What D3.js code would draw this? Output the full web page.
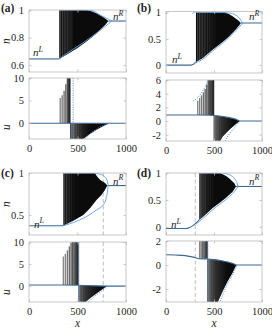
<!DOCTYPE html>
<html>
<head>
<meta charset="utf-8">
<script src="https://cdn.jsdelivr.net/npm/d3@7/dist/d3.min.js"></script>
<style>
  body { margin: 0; background: #fff; }
</style>
</head>
<body>
<svg id="chart" width="272" height="330"></svg>
<script>
// shared x axis
var xDomain = [0, 1000];
var xTicks = [0, 500, 1000];

// ---- (a) ----
var aNLim = [0.55, 1], aNTicks = [0.6, 0.8, 1];
var aULim = [-3.5, 10], aUTicks = [0, 5, 10];
var aNSolLeft = [[0, 0.645], [312, 0.645]];
var aNSolRight = [[818, 0.92], [1000, 0.92]];
var aNTop = [[312, 1], [600, 1], [650, 0.99], [700, 0.975], [750, 0.955], [790, 0.937], [818, 0.92]];
var aNBot = [[312, 0.645], [400, 0.68], [500, 0.725], [600, 0.775], [680, 0.82], [740, 0.86], [790, 0.895], [818, 0.92]];
var aNGaps = [326, 345, 363, 380, 396, 411, 425, 438, 450];
var aEnvUp = [[312, 1], [557, 1], [650, 0.995], [732, 0.964], [800, 0.94], [835, 0.927], [852, 0.92]];
var aEnvLo = [[312, 0.645], [400, 0.69], [495, 0.733], [646, 0.806], [765, 0.87], [820, 0.9], [852, 0.92]];
var aUSol = [[0, 0], [1000, 0]];
var aUBase = 0;
var aStripX = [322, 342, 362, 380, 396, 404, 410, 416, 421];
var aStripTop = [5.6, 6.2, 7.2, 8.6, 10.5, 12, 12, 12, 12];
var aNegTop = [[423, 0], [830, 0]];
var aNegBot = [[423, -6], [545, -6], [560, -3.5], [620, -2.5], [680, -1.7], [740, -0.95], [790, -0.4], [830, 0]];
var aUGaps = [440, 456, 472, 490, 510, 532];
var aDotV = 455;
var aDotLo = [[565, -4], [600, -3], [650, -2], [700, -1.3], [750, -0.7], [800, -0.25], [840, 0]];

// ---- (b) ----
var bNLim = [-0.15, 1.02], bNTicks = [0, 0.5, 1];
var bULim = [-2.93, 6], bUTicks = [-2, 0, 2, 4, 6];
var bNSolLeft = [[0, 0], [260, 0], [290, 0.02], [312, 0.06]];
var bNSolRight = [[781, 0.8], [1000, 0.8]];
var bNTop = [[312, 1], [607, 1], [650, 0.975], [694, 0.93], [747, 0.86], [781, 0.8]];
var bNBot = [[312, 0.06], [382, 0.13], [486, 0.29], [590, 0.44], [660, 0.55], [729, 0.68], [764, 0.76], [781, 0.8]];
var bNGaps = [330, 348, 365, 382, 398, 415, 432, 450, 468, 488, 510];
var bEnvUp = [[275, 0.975], [295, 1.01], [330, 1.012], [380, 1.003], [600, 1], [660, 0.99], [729, 0.95], [770, 0.88], [799, 0.8]];
var bEnvLo = [[292, 0.03], [382, 0.11], [486, 0.27], [590, 0.42], [660, 0.53], [729, 0.66], [770, 0.74], [799, 0.8]];
var bUSol = [[0, 0.88], [333, 0.88], [450, 0.85], [555, 0.73], [660, 0.49], [729, 0.25], [770, 0], [1000, 0]];
var bUBase = 0.88;
var bStripX = [330, 350, 370, 390, 408, 425, 440, 454, 466, 477, 487, 495];
var bStripTop = [2.97, 3.35, 3.75, 4.2, 4.7, 5.3, 6.1, 7, 7, 7, 7, 7];
var bNegTop = [[495, 0.8], [555, 0.73], [660, 0.49], [729, 0.25], [770, 0]];
var bNegBot = [[495, -5], [545, -5], [555, -3.2], [590, -2.3], [660, -1.3], [729, -0.45], [770, 0]];
var bUGaps = [505, 518, 532, 548, 566];
var bDotUp = [[281, 2.9], [320, 3.3], [354, 3.8], [385, 4.4], [410, 5.1], [437, 6], [450, 6.6]];
var bDotLo = [[605, -3.3], [650, -2.1], [700, -1.2], [740, -0.5], [775, 0]];

// ---- (c) ----
var cNLim = [0.26, 1], cNTicks = [0.5, 1];
var cULim = [-3.6, 10], cUTicks = [0, 5, 10];
var cNSolLeft = [[0, 0.37], [354, 0.37]];
var cNSolRight = [[807, 0.85], [1000, 0.85]];
var cNTop = [[354, 1], [680, 1], [700, 0.96], [732, 0.92], [784, 0.88], [807, 0.85]];
var cNBot = [[354, 0.37], [457, 0.43], [560, 0.5], [629, 0.58], [698, 0.68], [749, 0.74], [784, 0.8], [807, 0.85]];
var cNGaps = [368, 385, 402, 420, 440, 462];
var cEnvUp = [[354, 1], [660, 1], [720, 0.99], [770, 0.965], [800, 0.93], [815, 0.86]];
var cEnvLo = [[354, 0.37], [460, 0.41], [560, 0.46], [698, 0.56], [766, 0.62], [800, 0.72], [811, 0.8], [815, 0.86]];
var cUSol = [[0, 0.25], [360, 0.25], [508, 0.2], [805, 0], [1000, 0]];
var cUBase = 0.25;
var cStripX = [354, 375, 396, 416, 434, 450, 464, 476, 487, 497, 505];
var cStripTop = [6.7, 7.3, 8.1, 9, 9.9, 11, 11, 11, 11, 11, 11];
var cNegTop = [[508, 0.2], [805, 0]];
var cNegBot = [[508, -6], [570, -6], [585, -3.6], [640, -2.6], [700, -1.6], [750, -0.8], [805, 0]];
var cUGaps = [520, 535, 552, 570];
var cDotV = 515;
var cDotLo = [[590, -4], [620, -3.4], [660, -2.6], [700, -1.9], [750, -1.1], [790, -0.4], [812, 0]];
var cDash = 766;

// ---- (d) ----
var dNLim = [-0.15, 1], dNTicks = [0, 0.5, 1];
var dULim = [-3.08, 2], dUTicks = [-2, 0, 2];
var dNSolLeft = [[0, -0.03], [208, -0.03], [245, -0.01], [278, 0.02], [312, 0.07], [347, 0.13]];
var dNSolRight = [[729, 0.75], [1000, 0.75]];
var dNTop = [[347, 1], [560, 1], [590, 0.975], [630, 0.94], [660, 0.9], [712, 0.81], [729, 0.75]];
var dNBot = [[347, 0.13], [420, 0.24], [486, 0.35], [560, 0.45], [625, 0.54], [694, 0.65], [729, 0.75]];
var dNGaps = [360, 372, 385, 398, 412, 428, 446, 466, 488];
var dEnvUp = [[347, 1], [560, 1], [620, 0.99], [680, 0.95], [720, 0.88], [742, 0.8], [750, 0.75]];
var dEnvLo = [[312, 0.05], [347, 0.1], [420, 0.21], [486, 0.32], [560, 0.42], [625, 0.51], [694, 0.62], [735, 0.71], [750, 0.75]];
var dUSol = [[0, 0.85], [100, 0.83], [200, 0.78], [285, 0.66], [347, 0.52], [428, 0.5], [500, 0.45], [580, 0.36], [650, 0.24], [700, 0.12], [735, 0], [1000, 0]];
var dUBase = 0.52;
var dStripX = [350, 366, 381, 395, 407, 418, 428];
var dStripTop = [3, 3, 3, 3, 3, 3, 3];
var dNegTop = [[428, 0.5], [500, 0.45], [580, 0.36], [650, 0.24], [700, 0.12], [735, 0]];
var dNegBot = [[428, -6], [530, -6], [540, -3.08], [590, -2.2], [640, -1.4], [690, -0.7], [720, -0.2], [735, 0]];
var dUGaps = [440, 452, 466, 482, 500];
var dDotV = 437;
var dDotLo = [[548, -3.4], [590, -2.5], [640, -1.6], [690, -0.85], [725, -0.25], [745, 0]];
var dDash = 305;

var blue = '#5da0e2', solBlue = '#3b6894', frameCol = '#b9b9b9', ink = '#262626';
var serif = '"Liberation Serif", "DejaVu Serif", serif';

var svg = d3.select('#chart');
var defs = svg.append('defs');
var uid = 0;

function rectClip(x0, y0, x1, y1) {
  var id = 'c' + (uid++);
  defs.append('clipPath').attr('id', id).append('rect')
    .attr('x', x0).attr('y', y0).attr('width', x1 - x0).attr('height', y1 - y0);
  return 'url(#' + id + ')';
}
function pathClip(d) {
  var id = 'c' + (uid++);
  defs.append('clipPath').attr('id', id).append('path').attr('d', d);
  return 'url(#' + id + ')';
}

function axes(g, x, y, ticks, labels, x0, x1, y0, y1) {
  var fmt = function (d) { return String(d); };
  g.append('g').attr('transform', 'translate(0,' + y1 + ')')
    .call(d3.axisBottom(x).tickValues(xTicks).tickSizeInner(-2.5).tickSizeOuter(0).tickPadding(5.5).tickFormat(labels ? fmt : ''));
  g.append('g').attr('transform', 'translate(0,' + y0 + ')')
    .call(d3.axisTop(x).tickValues(xTicks).tickSizeInner(-2.5).tickSizeOuter(0).tickFormat(''));
  g.append('g').attr('transform', 'translate(' + x0 + ',0)')
    .call(d3.axisLeft(y).tickValues(ticks).tickSizeInner(-2.5).tickSizeOuter(0).tickPadding(5).tickFormat(fmt));
  g.append('g').attr('transform', 'translate(' + x1 + ',0)')
    .call(d3.axisRight(y).tickValues(ticks).tickSizeInner(-2.5).tickSizeOuter(0).tickFormat(''));
  g.selectAll('.domain').remove();
  g.selectAll('.tick line').attr('stroke', frameCol).attr('stroke-width', 0.8);
  g.selectAll('g').attr('font-family', serif).attr('font-size', 10.5);
  g.selectAll('.tick text').attr('fill', ink);
  g.append('rect').attr('x', x0).attr('y', y0).attr('width', x1 - x0).attr('height', y1 - y0)
    .attr('fill', 'none').attr('stroke', frameCol).attr('stroke-width', 0.8);
}

function dashed(g, xp, y0, y1) {
  g.append('line').attr('x1', xp).attr('x2', xp).attr('y1', y0).attr('y2', y1)
    .attr('stroke', '#c4c4c4').attr('stroke-width', 1.1).attr('stroke-dasharray', '4,2.5');
}

function gapLines(g, clip, xs, x, y0, y1) {
  var op = d3.scaleLinear().domain([0, Math.max(1, xs.length - 1)]).range([0.5, 0.12]);
  g.append('g').attr('clip-path', clip).selectAll('line').data(xs).join('line')
    .attr('x1', function (d) { return x(d); }).attr('x2', function (d) { return x(d); })
    .attr('y1', y0).attr('y2', y1)
    .attr('stroke', '#fff').attr('stroke-width', 0.5)
    .attr('stroke-opacity', function (d, i) { return op(i); });
}

function drawPanel(p) {
  var x = d3.scaleLinear().domain(xDomain).range([p.x0, p.x1]);
  var yn = d3.scaleLinear().domain(p.nLim).range([p.n1, p.n0]);
  var yu = d3.scaleLinear().domain(p.uLim).range([p.u1, p.u0]);

  // ----- n panel -----
  var ln = d3.line().x(function (d) { return x(d[0]); }).y(function (d) { return yn(d[1]); });
  var sn = d3.line().curve(d3.curveMonotoneX).x(function (d) { return x(d[0]); }).y(function (d) { return yn(d[1]); });
  var gn = svg.append('g');
  var inN = gn.append('g').attr('clip-path', rectClip(p.x0, p.n0, p.x1, p.n1));
  if (p.dash != null) dashed(inN, x(p.dash), p.n0, p.n1);
  var polyN = ln(p.nTop.concat(p.nBot.slice().reverse())) + 'Z';
  inN.append('path').attr('d', polyN).attr('fill', '#0b0b0b');
  gapLines(inN, pathClip(polyN), p.nGaps, x, p.n0, p.n1);
  [p.nSolLeft, p.nSolRight].forEach(function (s) {
    inN.append('path').datum(s).attr('d', sn).attr('fill', 'none').attr('stroke', solBlue).attr('stroke-width', 1.1);
  });
  [p.envUp, p.envLo].forEach(function (s) {
    inN.append('path').datum(s).attr('d', sn).attr('fill', 'none').attr('stroke', blue).attr('stroke-width', 0.9);
  });
  axes(gn, x, yn, p.nTicks, false, p.x0, p.x1, p.n0, p.n1);

  // ----- u panel -----
  var lu = d3.line().x(function (d) { return x(d[0]); }).y(function (d) { return yu(d[1]); });
  var su = d3.line().curve(d3.curveMonotoneX).x(function (d) { return x(d[0]); }).y(function (d) { return yu(d[1]); });
  var gu = svg.append('g');
  var inU = gu.append('g').attr('clip-path', rectClip(p.x0, p.u0, p.x1, p.u1));
  if (p.dash != null) dashed(inU, x(p.dash), p.u0, p.u1);

  var shade = d3.interpolateRgb('#8a8a8a', '#262626');
  inU.append('g').selectAll('line').data(p.stripX).join('line')
    .attr('x1', function (d) { return x(d); }).attr('x2', function (d) { return x(d); })
    .attr('y1', yu(p.uBase)).attr('y2', function (d, i) { return yu(p.stripTop[i]); })
    .attr('stroke', function (d, i) { return shade(i / (p.stripX.length - 1)); })
    .attr('stroke-width', 1.4);

  var gid = 'g' + (uid++);
  var gx0 = x(p.negTop[0][0]);
  var grad = defs.append('linearGradient').attr('id', gid).attr('gradientUnits', 'userSpaceOnUse')
    .attr('x1', gx0).attr('x2', gx0 + 20).attr('y1', 0).attr('y2', 0);
  grad.append('stop').attr('offset', 0).attr('stop-color', '#4a4a4a');
  grad.append('stop').attr('offset', 1).attr('stop-color', '#0b0b0b');
  var polyU = lu(p.negTop.concat(p.negBot.slice().reverse())) + 'Z';
  inU.append('path').attr('d', polyU).attr('fill', 'url(#' + gid + ')');
  gapLines(inU, pathClip(polyU), p.uGaps, x, p.u0, p.u1);

  inU.append('path').datum(p.uSol).attr('d', su).attr('fill', 'none').attr('stroke', solBlue).attr('stroke-width', 1.1);
  if (p.dotV != null) {
    inU.append('line').attr('x1', x(p.dotV)).attr('x2', x(p.dotV)).attr('y1', p.u0).attr('y2', p.u1)
      .attr('stroke', blue).attr('stroke-width', 1).attr('stroke-dasharray', '1.2,1.2');
  }
  [p.dotUp, p.dotLo].forEach(function (s) {
    if (!s) return;
    inU.append('path').datum(s).attr('d', su).attr('fill', 'none').attr('stroke', blue)
      .attr('stroke-width', 1).attr('stroke-dasharray', '1.2,1.2');
  });
  axes(gu, x, yu, p.uTicks, true, p.x0, p.x1, p.u0, p.u1);
}

var panels = [
  { x0: 29, x1: 126, n0: 10, n1: 72, u0: 78, u1: 139,
    nLim: aNLim, nTicks: aNTicks, uLim: aULim, uTicks: aUTicks,
    nSolLeft: aNSolLeft, nSolRight: aNSolRight, nTop: aNTop, nBot: aNBot, nGaps: aNGaps,
    envUp: aEnvUp, envLo: aEnvLo, uSol: aUSol, uBase: aUBase, stripX: aStripX, stripTop: aStripTop,
    negTop: aNegTop, negBot: aNegBot, uGaps: aUGaps, dotV: aDotV, dotUp: null, dotLo: aDotLo, dash: null },
  { x0: 166, x1: 262, n0: 11.5, n1: 73, u0: 80, u1: 141,
    nLim: bNLim, nTicks: bNTicks, uLim: bULim, uTicks: bUTicks,
    nSolLeft: bNSolLeft, nSolRight: bNSolRight, nTop: bNTop, nBot: bNBot, nGaps: bNGaps,
    envUp: bEnvUp, envLo: bEnvLo, uSol: bUSol, uBase: bUBase, stripX: bStripX, stripTop: bStripTop,
    negTop: bNegTop, negBot: bNegBot, uGaps: bUGaps, dotV: null, dotUp: bDotUp, dotLo: bDotLo, dash: null },
  { x0: 29, x1: 126, n0: 173, n1: 235, u0: 242, u1: 302,
    nLim: cNLim, nTicks: cNTicks, uLim: cULim, uTicks: cUTicks,
    nSolLeft: cNSolLeft, nSolRight: cNSolRight, nTop: cNTop, nBot: cNBot, nGaps: cNGaps,
    envUp: cEnvUp, envLo: cEnvLo, uSol: cUSol, uBase: cUBase, stripX: cStripX, stripTop: cStripTop,
    negTop: cNegTop, negBot: cNegBot, uGaps: cUGaps, dotV: cDotV, dotUp: null, dotLo: cDotLo, dash: cDash },
  { x0: 166, x1: 262, n0: 173, n1: 235, u0: 241, u1: 302,
    nLim: dNLim, nTicks: dNTicks, uLim: dULim, uTicks: dUTicks,
    nSolLeft: dNSolLeft, nSolRight: dNSolRight, nTop: dNTop, nBot: dNBot, nGaps: dNGaps,
    envUp: dEnvUp, envLo: dEnvLo, uSol: dUSol, uBase: dUBase, stripX: dStripX, stripTop: dStripTop,
    negTop: dNegTop, negBot: dNegBot, uGaps: dUGaps, dotV: dDotV, dotUp: null, dotLo: dDotLo, dash: dDash }
];
panels.forEach(drawPanel);

// panel letters
[['(a)', 1, 12], ['(b)', 137, 11.5], ['(c)', 1, 176.5], ['(d)', 137, 176.5]].forEach(function (t) {
  svg.append('text').attr('x', t[1]).attr('y', t[2]).attr('font-size', 11.5).attr('font-weight', 'bold').text(t[0]);
});

// axis titles
[['n', 41], ['u', 127], ['n', 204], ['u', 292]].forEach(function (t) {
  svg.append('text').attr('transform', 'translate(9.5,' + t[1] + ') rotate(-90)')
    .attr('text-anchor', 'middle').attr('font-style', 'italic').attr('font-size', 11.5).text(t[0]);
});
[77.5, 214].forEach(function (cx) {
  svg.append('text').attr('x', cx).attr('y', 326.5).attr('text-anchor', 'middle')
    .attr('font-style', 'italic').attr('font-size', 11.5).text('x');
});

// n^L / n^R annotations
[['L', 33, 56], ['R', 113, 20], ['L', 172, 63], ['R', 249, 20],
 ['L', 34, 227.5], ['R', 113, 184.5], ['L', 171, 228], ['R', 249, 184.5]].forEach(function (t) {
  var tx = svg.append('text').attr('x', t[1]).attr('y', t[2]).attr('font-style', 'italic').attr('font-size', 11);
  tx.append('tspan').text('n');
  tx.append('tspan').attr('dy', -4.5).attr('font-size', 8).text(t[0]);
});

svg.selectAll('text').attr('font-family', serif).attr('fill', ink);
</script>
</body>
</html>
